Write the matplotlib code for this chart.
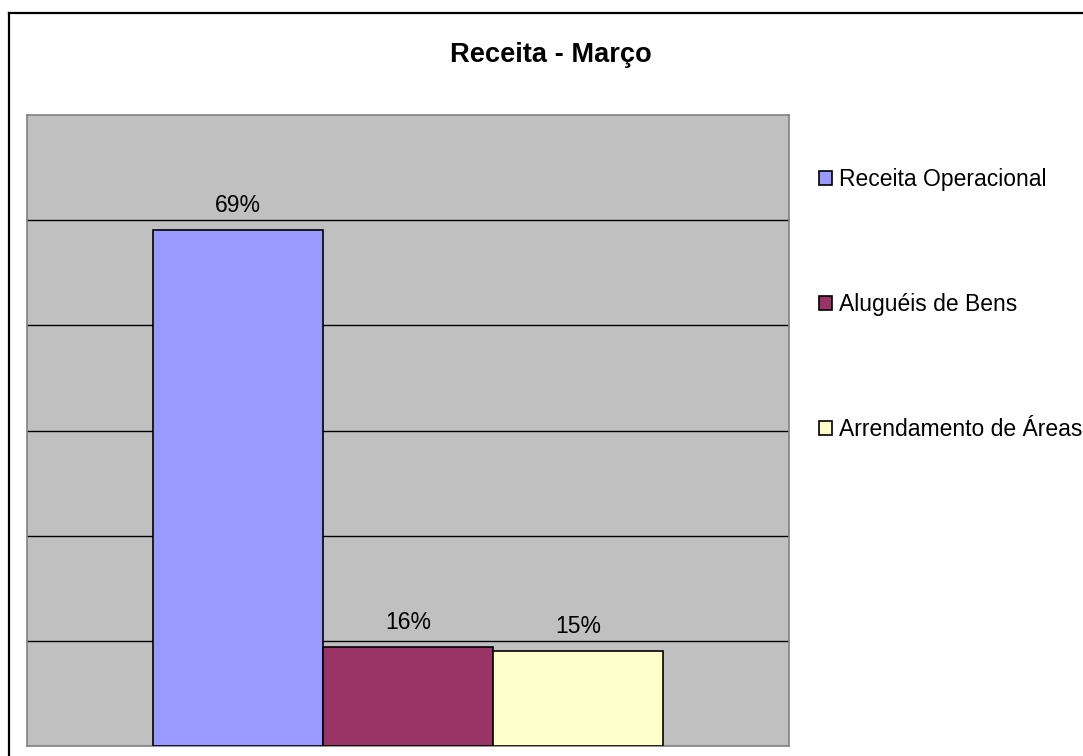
import matplotlib
matplotlib.use("Agg")
import matplotlib.pyplot as plt
from matplotlib.lines import Line2D

# ===================== 数据 =====================
categorias = ["Receita Operacional", "Aluguéis de Bens", "Arrendamento de Áreas"]
# altura das barras em unidades de grade (6 divisões no eixo)
valores = [4.906, 0.941, 0.903]
rotulos = ["69%", "16%", "15%"]
cores = ["#9999FF", "#993366", "#FFFFCC"]

plt.rcParams["font.family"] = ["Liberation Sans", "DejaVu Sans"]

W, H = 1083, 756
fig = plt.figure(figsize=(W / 100, H / 100), dpi=100)
fig.patch.set_facecolor("white")

# área do gráfico
ax = fig.add_axes([27 / W, (H - 746) / H, 762 / W, 631 / H])
ax.set_facecolor("#C0C0C0")

x = list(range(len(categorias)))
bars = ax.bar(x, valores, width=1.0, color=cores, edgecolor="black",
              linewidth=1.2, zorder=3)
for b, c in zip(bars, categorias):
    b.set_label(c)

for b, r in zip(bars, rotulos):
    ax.annotate(r, (b.get_x() + b.get_width() / 2, b.get_height()),
                xytext=(0, 13), textcoords="offset points",
                ha="center", va="baseline", fontsize=16.5, color="black")

ax.set_xlim(-1.241, 3.241)
ax.set_ylim(0, 6)
ax.set_yticks([1, 2, 3, 4, 5])
ax.set_xticks([])
ax.tick_params(axis="y", length=0, labelleft=False)
ax.yaxis.grid(True, color="black", linewidth=1.0, zorder=1)
ax.set_axisbelow(True)
for s in ax.spines.values():
    s.set_color("#808080")
    s.set_linewidth(1.2)

# título
fig.text(551 / W, 1 - 62 / H, "Receita - Março", ha="center", va="baseline",
         fontsize=19.6, fontweight="bold")

# legenda
leg = fig.legend(handles=list(bars), labels=categorias, loc="upper left",
                 bbox_to_anchor=(819 / W, 1 - 168 / H), frameon=False,
                 fontsize=16.5, handlelength=0.57, handleheight=0.57,
                 handletextpad=0.3, labelspacing=4.46, borderpad=0,
                 borderaxespad=0)

# moldura externa
fig.add_artist(Line2D([9 / W, 1.0], [1 - 13 / H, 1 - 13 / H],
                      transform=fig.transFigure, color="black", linewidth=1.6))
fig.add_artist(Line2D([9 / W, 9 / W], [0.0, 1 - 13 / H],
                      transform=fig.transFigure, color="black", linewidth=1.6))

fig.savefig("out.png", dpi=100)
